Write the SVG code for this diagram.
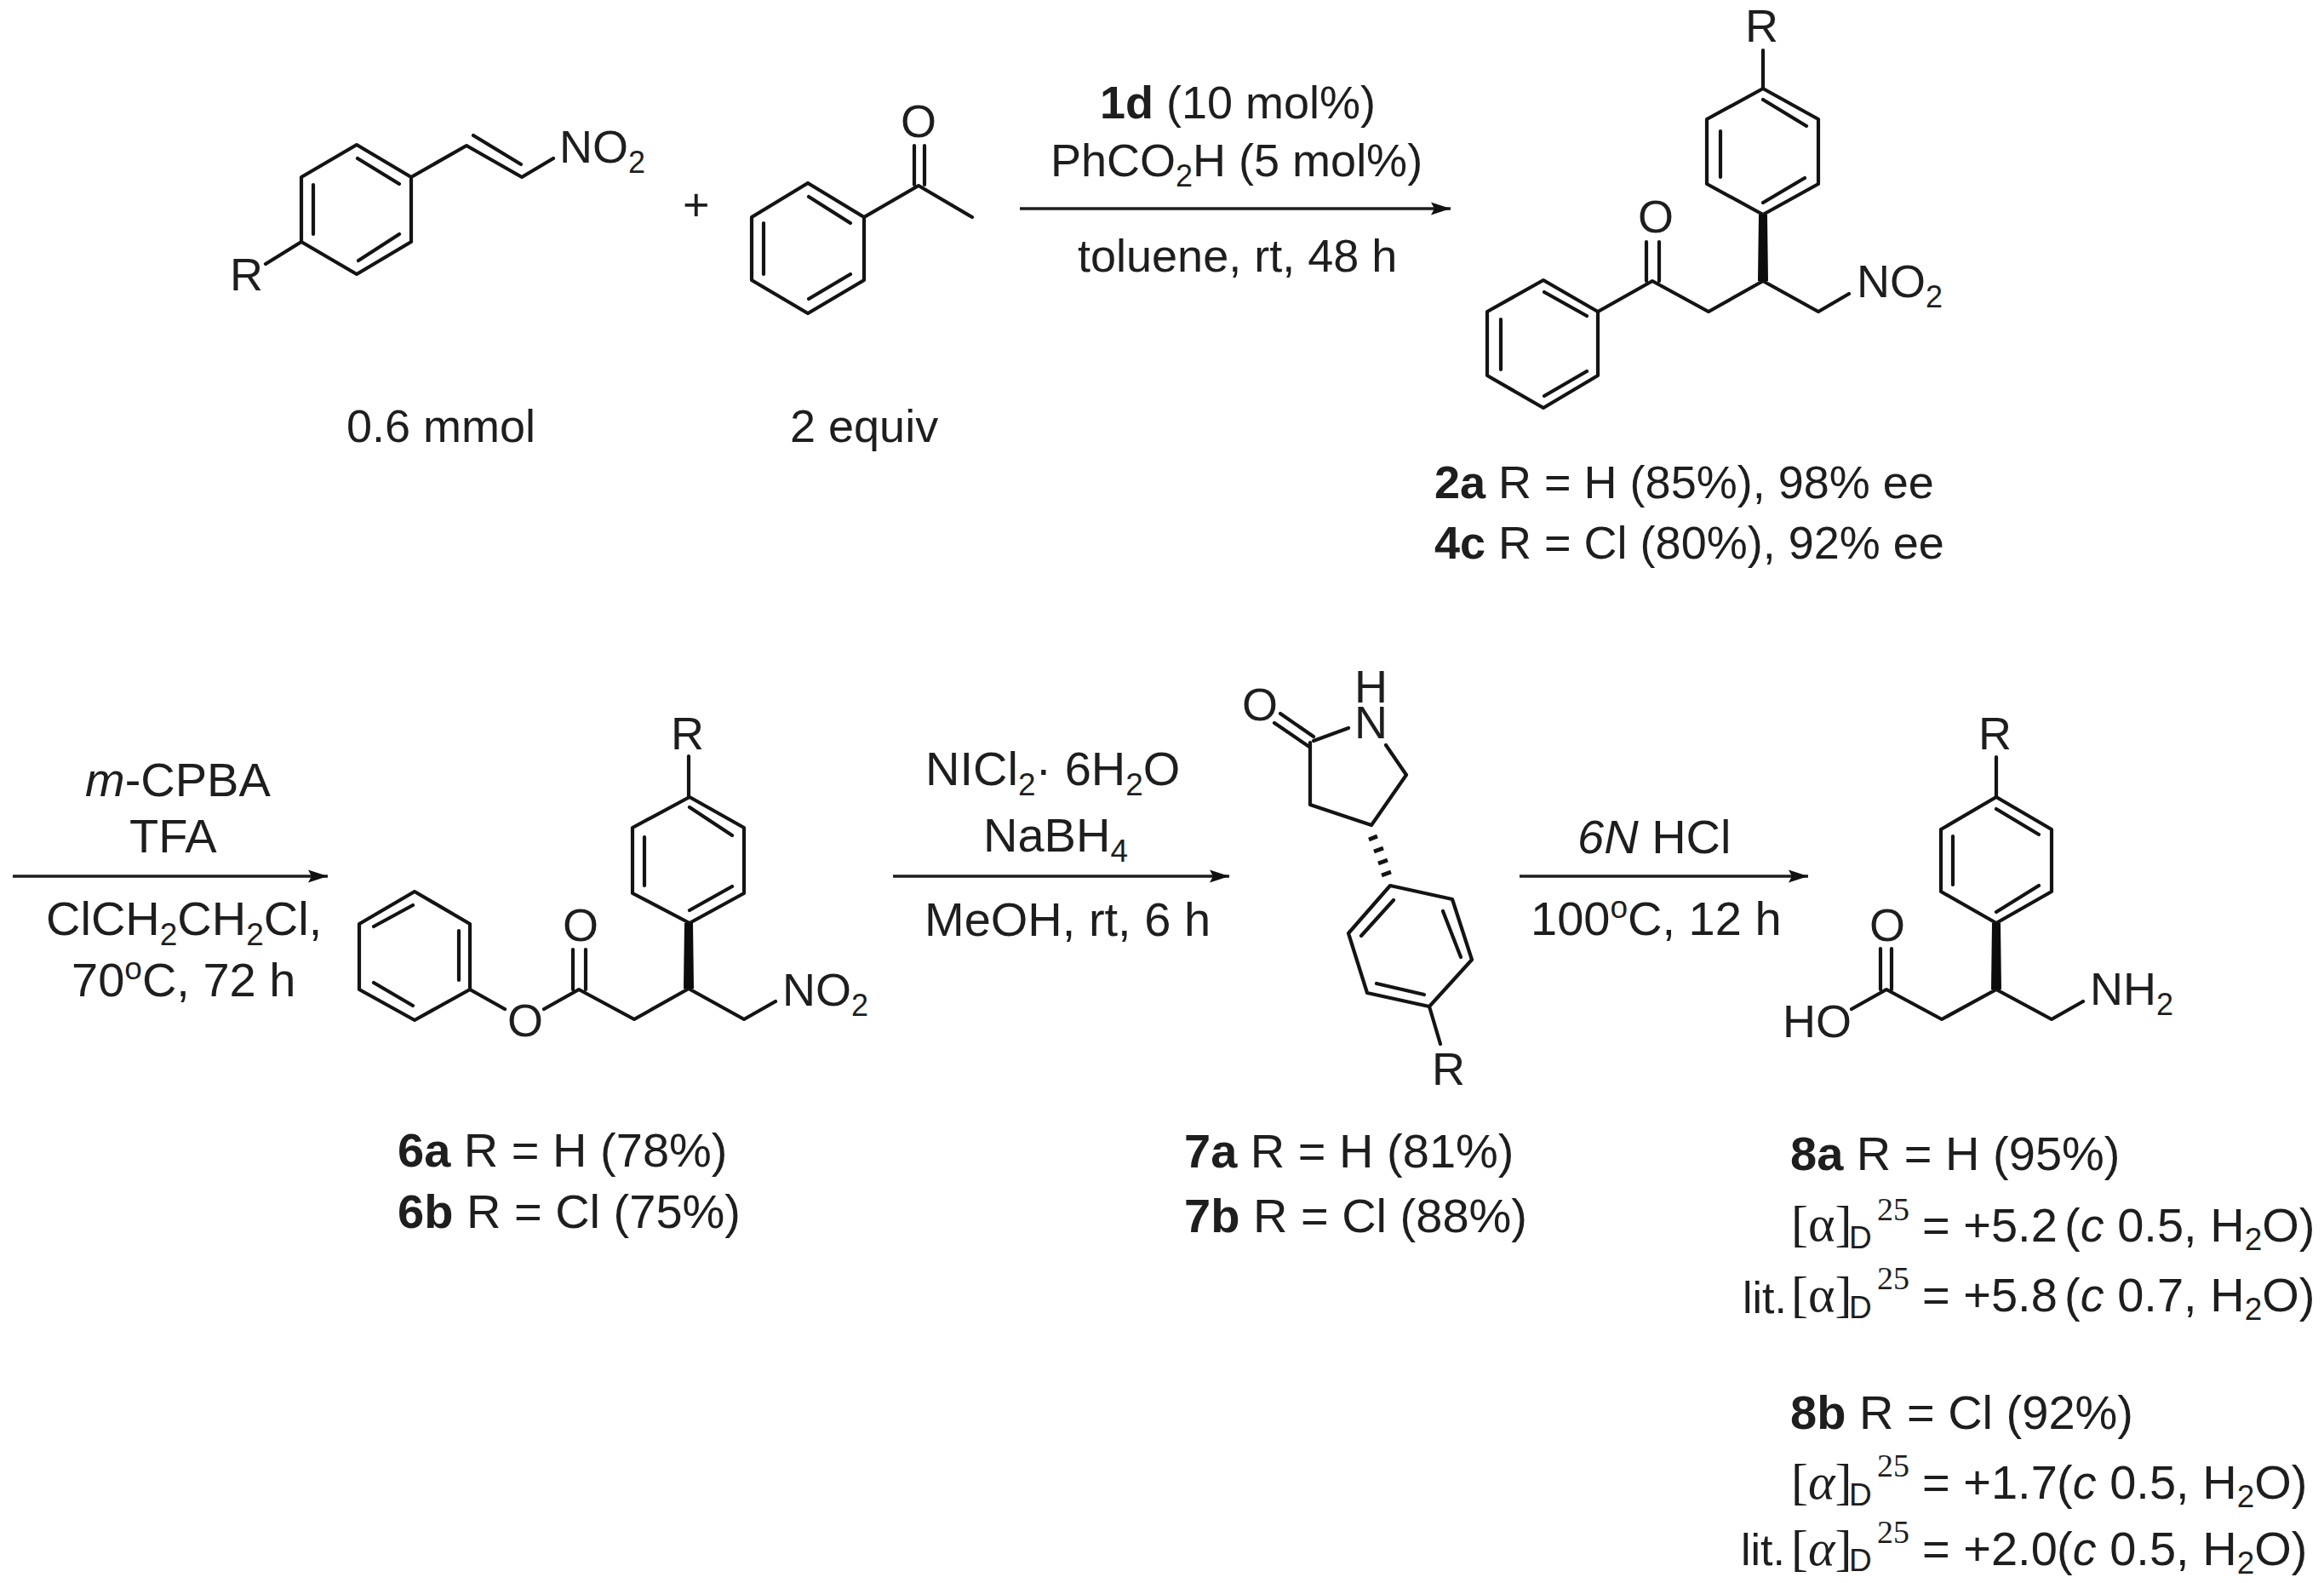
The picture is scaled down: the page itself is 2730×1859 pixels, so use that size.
<svg xmlns="http://www.w3.org/2000/svg" width="2730" height="1859" viewBox="0 0 2730 1859">
<style>
text{font-family:"Liberation Sans",Arial,sans-serif;font-size:54px;fill:#1e1e1e}
.r2{font-size:56px}
.b{fill:none;stroke:#141414;stroke-width:4.2;stroke-linejoin:round;stroke-linecap:round}
.w{fill:#0c0c0c;stroke:none}
.h{fill:none;stroke:#141414;stroke-width:5;stroke-linecap:butt}
.a{stroke:#1e1e1e;stroke-width:3.4;fill:none}
.bd{font-weight:bold}
.i{font-style:italic}
.s{font-family:"Liberation Serif",serif;font-size:60px}
.sm{font-size:37px}
.lit{font-size:52px}
.n{font-size:38px;font-family:"Liberation Serif",serif}
</style>
<defs>
<marker id="arr" markerUnits="userSpaceOnUse" markerWidth="24" markerHeight="18" refX="23" refY="9" orient="auto">
<path d="M0 1.500L23 9L0 16.500L4 9Z" fill="#111"/>
</marker>
</defs>
<rect width="2730" height="1859" fill="#fff"/>
<g id="connectors">
<path class="a" d="M1198 245H1704" marker-end="url(#arr)"/>
<path class="a" d="M15 1029H385" marker-end="url(#arr)"/>
<path class="a" d="M1049 1029H1444" marker-end="url(#arr)"/>
<path class="a" d="M1785 1029H2124" marker-end="url(#arr)"/>
</g>
<g id="nitrostyrene">
<path class="b" d="M419 170L483 208V284L419 322L354 284V208ZM420 186L469 216M368 217V275M421 306L469 275M483 208L548 171L613 208L650 186M556 159L612 193M354 284L312 310"/>
<text x="270" y="341">R</text>
<text x="657" y="191">NO<tspan font-size="36" dy="12">2</tspan></text>
<text x="407" y="519">0.6 mmol</text>
</g>
<text id="plus" x="802" y="259" font-size="44">+</text>
<g id="acetophenone">
<path class="b" d="M949 215L1015 255V329L949 368L883 329V255ZM950 231L999 262M897 262V322M950 351L999 322M1015 255L1079 218L1142 255M1074 171V217M1086 171V217"/>
<text x="1058" y="161">O</text>
<text x="928" y="519">2 equiv</text>
</g>
<g id="reagents1">
<text x="1292" y="139"><tspan class="bd">1d</tspan> (10 mol%)</text>
<text x="1234" y="207">PhCO<tspan font-size="36" dy="12">2</tspan><tspan dy="-12">H (5 mol%)</tspan></text>
<text x="1266" y="319">toluene, rt, 48 h</text>
</g>
<g id="product2">
<path class="b" d="M2071 104L2136 140V216L2071 252L2005 216V140ZM2071 117L2122 148M2021 154V208M2071 238L2120 209M2071 59V104M1813 329L1877 366V441L1813 479L1747 441V366ZM1814 343L1864 371M1763 375V434M1814 465L1864 436M1877 366L1941 330L2007 366L2071 330L2136 366L2172 345M1934 284V330M1949 284V330"/>
<path class="w" d="M2066 252H2076L2077 330H2065Z"/>
<text x="2050" y="49">R</text>
<text x="1924" y="273">O</text>
<text x="2181" y="349">NO<tspan font-size="36" dy="12">2</tspan></text>
<text x="1685" y="585"><tspan class="bd">2a</tspan> R = H (85%), 98% ee</text>
<text x="1685" y="656"><tspan class="bd">4c</tspan> R = Cl (80%), 92% ee</text>
</g>
<g id="reagents2">
<text class="r2" x="100" y="935"><tspan class="i">m</tspan>-CPBA</text>
<text class="r2" x="152" y="1001">TFA</text>
<text class="r2" x="54" y="1098">ClCH<tspan font-size="37" dy="12">2</tspan><tspan dy="-12">CH</tspan><tspan font-size="37" dy="12">2</tspan><tspan dy="-12">Cl,</tspan></text>
<text class="r2" x="84" y="1170">70<tspan font-size="37" dy="-20">o</tspan><tspan dy="20">C, 72 h</tspan></text>
</g>
<g id="product6">
<path class="b" d="M810 936L874 972V1049L810 1084L743 1049V972ZM810 948L860 981M757 983V1040M810 1069L860 1041M809 888V936M487 1047L552 1085V1162L487 1198L422 1162V1085ZM439 1088L485 1063M539 1093V1151M439 1154L485 1181M552 1162L593 1185M639 1185L680 1162L745 1197L809 1161L874 1197L911 1176M673 1115V1162M688 1115V1162"/>
<path class="w" d="M804 1084H814L815 1161H803Z"/>
<text x="788" y="880">R</text>
<text x="661" y="1105">O</text>
<text x="596" y="1217">O</text>
<text x="919" y="1181">NO<tspan font-size="36" dy="12">2</tspan></text>
<text class="r2" x="467" y="1370"><tspan class="bd">6a</tspan> R = H (78%)</text>
<text class="r2" x="467" y="1442"><tspan class="bd">6b</tspan> R = Cl (75%)</text>
</g>
<g id="reagents3">
<text class="r2" x="1087" y="922">NICl<tspan font-size="37" dy="12">2</tspan><tspan dy="-12">· 6H</tspan><tspan font-size="37" dy="12">2</tspan><tspan dy="-12">O</tspan></text>
<text class="r2" x="1155" y="1000">NaBH<tspan font-size="37" dy="12">4</tspan></text>
<text class="r2" x="1086" y="1099">MeOH, rt, 6 h</text>
</g>
<g id="product7">
<path class="b" d="M1543 870L1584 855M1628 875L1652 910L1611 969L1539 945V872M1497 849L1538 877M1504 838L1543 865M1633 1040L1706 1056L1729 1127L1679 1182L1606 1166L1584 1096ZM1637 1057L1599 1099M1695 1070L1716 1124M1673 1168L1617 1155M1679 1182L1692 1226"/>
<path class="h" d="M1608 986L1618 982M1614 1000L1625 996M1619 1014L1630 1010M1623 1028L1634 1024"/>
<text x="1591" y="825">H<tspan x="1591" dy="42">N</tspan></text>
<text x="1459" y="846">O</text>
<text x="1682" y="1274">R</text>
<text class="r2" x="1391" y="1371"><tspan class="bd">7a</tspan> R = H (81%)</text>
<text class="r2" x="1391" y="1447"><tspan class="bd">7b</tspan> R = Cl (88%)</text>
</g>
<g id="reagents4">
<text class="r2" x="1853" y="1002"><tspan class="i">6N</tspan> HCl</text>
<text class="r2" x="1798" y="1098">100<tspan font-size="37" dy="-20">o</tspan><tspan dy="20">C, 12 h</tspan></text>
</g>
<g id="product8">
<path class="b" d="M2345 936L2410 974V1047L2345 1084L2280 1047V974ZM2345 950L2395 980M2294 982V1039M2345 1071L2395 1040M2345 889V936M2175 1185L2216 1162L2281 1197L2345 1162L2410 1197L2447 1176M2209 1114V1162M2222 1114V1162"/>
<path class="w" d="M2340 1084H2350L2351 1162H2339Z"/>
<text x="2324" y="880">R</text>
<text x="2196" y="1105">O</text>
<text x="2094" y="1218">HO</text>
<text x="2455" y="1180">NH<tspan font-size="36" dy="12">2</tspan></text>
</g>
<g id="data8a">
<text class="r2" x="2103" y="1374"><tspan class="bd">8a</tspan> R = H (95%)</text>
<text class="s" x="2104" y="1457">[α]</text>
<text class="sm" x="2172" y="1466">D</text>
<text class="n" x="2205" y="1433">25</text>
<text class="r2" x="2258" y="1458">= +5.2</text>
<text class="r2" x="2425" y="1458">(<tspan class="i">c</tspan> 0.5, H<tspan font-size="37" dy="10">2</tspan><tspan dy="-10">O)</tspan></text>
<text class="lit" x="2047" y="1542">lit.</text>
<text class="s" x="2104" y="1540">[α]</text>
<text class="sm" x="2172" y="1548">D</text>
<text class="n" x="2205" y="1514">25</text>
<text class="r2" x="2258" y="1540">= +5.8</text>
<text class="r2" x="2425" y="1540">(<tspan class="i">c</tspan> 0.7, H<tspan font-size="37" dy="10">2</tspan><tspan dy="-10">O)</tspan></text>
</g>
<g id="data8b">
<text class="r2" x="2103" y="1678"><tspan class="bd">8b</tspan> R = Cl (92%)</text>
<text class="s" x="2104" y="1760">[<tspan class="i">α</tspan>]</text>
<text class="sm" x="2172" y="1768">D</text>
<text class="n" x="2205" y="1734">25</text>
<text class="r2" x="2258" y="1760">= +1.7</text>
<text class="r2" x="2416" y="1760">(<tspan class="i">c</tspan> 0.5, H<tspan font-size="37" dy="10">2</tspan><tspan dy="-10">O)</tspan></text>
<text class="lit" x="2045" y="1838">lit.</text>
<text class="s" x="2104" y="1838">[<tspan class="i">α</tspan>]</text>
<text class="sm" x="2172" y="1845">D</text>
<text class="n" x="2205" y="1812">25</text>
<text class="r2" x="2258" y="1838">= +2.0</text>
<text class="r2" x="2416" y="1838">(<tspan class="i">c</tspan> 0.5, H<tspan font-size="37" dy="10">2</tspan><tspan dy="-10">O)</tspan></text>
</g>
</svg>
